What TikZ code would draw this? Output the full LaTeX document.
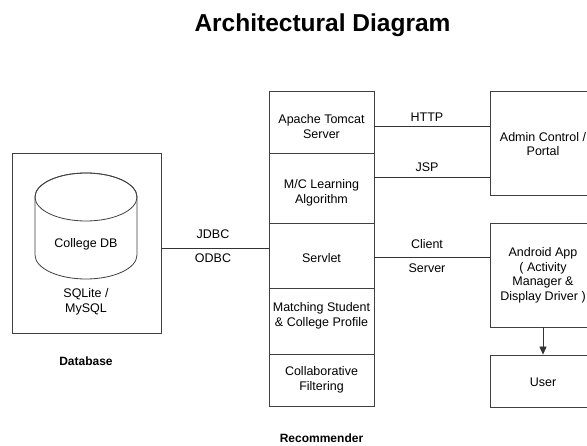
\documentclass[tikz,border=0pt]{standalone}
\usepackage{fontspec}
\setmainfont{Liberation Sans}
\usetikzlibrary{arrows.meta,shadows}

\tikzset{
  box/.style={draw=black!75, line width=0.8pt, fill=white, inner sep=0pt,
    drop shadow={opacity=0.18, shadow xshift=1.2pt, shadow yshift=-1.2pt}},
  cell/.style={draw=black!75, line width=0.8pt, fill=white, inner sep=0pt,
    minimum width=105pt},
  txt/.style={inner sep=0pt, align=center, font=\fontsize{12.5}{14.5}\selectfont},
  caption/.style={inner sep=0pt, font=\fontsize{12}{14}\selectfont\bfseries},
  link/.style={draw=black!80, line width=0.8pt},
}

\begin{document}
\begin{tikzpicture}[x=1pt, y=-1pt]
\useasboundingbox (0,0) rectangle (587,446);
\clip (0,0) rectangle (587,446);
\fill[white] (0,0) rectangle (587,446);

% title
\node[inner sep=0pt, anchor=base, font=\fontsize{24.5}{28}\selectfont\bfseries]
  (title) at (322.5,32) {Architectural Diagram};

% database block
\node[box, minimum width=149pt, minimum height=180pt] (db) at (86.5,243) {};
\filldraw[draw=black!75, fill=white, line width=0.8pt]
  (35,197) -- (35,255) arc[start angle=180, end angle=360, x radius=51pt, y radius=24pt]
  -- (137,197) arc[start angle=0, end angle=180, x radius=51pt, y radius=24pt] -- cycle;
\draw[draw=black!75, line width=0.8pt] (86,197) ellipse[x radius=51pt, y radius=24pt];
\node[txt] (collegedb) at (86,244) {College DB};
\node[txt] (sqlite) at (86,302) {SQLite /\\MySQL};
\node[caption] (dbcap) at (86,361) {Database};

% recommender stack with its soft shadow
\fill[black!18] (270.2,92.2) rectangle (375.2,407.2);
\node[cell, minimum height=62pt] (tomcat)   at (321.5,122)   {};
\node[cell, minimum height=70pt] (ml)       at (321.5,188)   {};
\node[cell, minimum height=65pt] (servlet)  at (321.5,255.5) {};
\node[cell, minimum height=66pt] (matching) at (321.5,321)   {};
\node[cell, minimum height=52pt] (collab)   at (321.5,380)   {};
\node[txt] (tomcat-t)   at (321.5,126.5) {Apache Tomcat\\Server};
\node[txt] (ml-t)       at (321.5,193)   {M/C Learning\\Algorithm};
\node[txt] (servlet-t)  at (321.5,258)   {Servlet};
\node[txt] (matching-t) at (321.5,316)   {Matching Student\\\& College Profile};
\node[txt] (collab-t)   at (321.5,380)   {Collaborative\\Filtering};
\node[caption] (reccap) at (321.5,438) {Recommender};

% client side
\node[box, minimum width=105pt, minimum height=104pt] (admin)   at (543,143) {};
\node[box, minimum width=105pt, minimum height=104pt] (android) at (543,275) {};
\node[box, minimum width=105pt, minimum height=52pt]  (user)    at (543,381) {};
\node[txt] (admin-t)   at (543,144) {Admin Control /\\Portal};
\node[txt] (android-t) at (543,275.5) {Android App\\( Activity\\Manager \&\\Display Driver )};
\node[txt] (user-t)    at (543,382) {User};

% connectors
\draw[link] (db.east |- 0,248) -- (servlet.west |- 0,248);
\node[txt] (jdbc) at (213,234) {JDBC};
\node[txt] (odbc) at (213,258) {ODBC};

\draw[link] (tomcat.east |- 0,126.5) -- (admin.west |- 0,126.5);
\node[txt] (http) at (427,117) {HTTP};
\draw[link] (ml.east |- 0,177) -- (admin.west |- 0,177);
\node[txt] (jsp) at (427,167) {JSP};

\draw[link] (servlet.east |- 0,257.5) -- (android.west |- 0,257.5);
\node[txt] (client) at (427,244) {Client};
\node[txt] (server) at (427,268) {Server};

\draw[link, -{Triangle[length=8pt, width=7pt]}] (android.south) -- (user.north);
\end{tikzpicture}
\end{document}
